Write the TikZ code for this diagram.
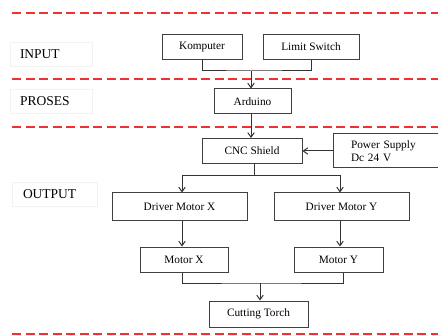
\documentclass[tikz,border=0pt]{standalone}
\usepackage{fontspec}
\setmainfont{Liberation Serif}
\usetikzlibrary{arrows.meta}

\tikzset{
  blok/.style={draw=black!75, line width=1pt, inner sep=0pt, minimum height=25, font=\fontsize{11.3}{12.5}\selectfont},
  fase/.style={draw=black!5, line width=0.6pt, inner ysep=0pt, inner xsep=10pt, text width=62, align=left, minimum height=24, font=\fontsize{13.5}{14}\selectfont},
  batas/.style={draw={rgb,255:red,238;green,50;blue,50}, line width=2.6pt, dash pattern=on 9pt off 4.5pt},
  panah/.style={draw=black!80, line width=1pt, -{Straight Barb[length=4.5pt,width=6.5pt]}},
  garis/.style={draw=black!80, line width=1pt}
}

\begin{document}
\begin{tikzpicture}[x=1pt,y=-1pt]
\useasboundingbox (0,0) rectangle (438,336);
\clip (0,0) rectangle (438,336);
% draw phase borders
\draw[batas] (12,13) -- (438,13);
\draw[batas] (12,79) -- (438,79);
\draw[batas] (12,127) -- (438,127);
\draw[batas] (12,334) -- (438,334);
% draw phase labels
\node[fase] (lblin) at (51,54) {INPUT};
\node[fase] (lblpr) at (51,101) {PROSES};
\node[fase, inner xsep=11pt, text width=63] (lblout) at (54.5,194) {OUTPUT};
% draw blocks
\node[blok, minimum width=80] (komp) at (202,47) {Komputer};
\node[blok, minimum width=96] (limit) at (311,47) {Limit Switch};
\node[blok, minimum width=77] (ard) at (252.5,101.5) {Arduino};
\node[blok, minimum width=100] (cnc) at (252,151) {CNC Shield};
\node[blok, minimum width=120, minimum height=34, align=left, text width=100] (psu) at (393,151) {\hspace*{8pt}Power Supply\\\hspace*{8pt}Dc 24 V};
\node[blok, minimum width=135, minimum height=28] (drvx) at (179.5,207) {Driver Motor X};
\node[blok, minimum width=135, minimum height=28] (drvy) at (341.5,207) {Driver Motor Y};
\node[blok, minimum width=88] (motx) at (184,259.5) {Motor X};
\node[blok, minimum width=89] (moty) at (338.5,259.5) {Motor Y};
\node[blok, minimum width=99, minimum height=26] (torch) at (258.5,314) {Cutting Torch};
% junction points
\coordinate (j1) at (251,71);
\coordinate (j2) at (254,176);
\coordinate (j3) at (260,283);
\coordinate (kx) at (182,0);
\coordinate (ky) at (340,0);
\coordinate (my) at (343,0);
% draw connectors
\draw[garis] (komp.south) |- (j1) -| (limit.south);
\draw[panah] (j1) -- (j1 |- ard.north);
\draw[panah] (ard.south -| j1) -- (j1 |- cnc.north);
\draw[panah] (psu.west |- cnc.east) -- (cnc.east);
\draw[garis] (cnc.south -| j2) -- (j2);
\draw[panah] (j2) -| (kx |- drvx.north);
\draw[panah] (j2) -| (ky |- drvy.north);
\draw[panah] (kx |- drvx.south) -- (kx |- motx.north);
\draw[panah] (ky |- drvy.south) -- (ky |- moty.north);
\draw[garis] (kx |- motx.south) |- (j3) -| (my |- moty.south);
\draw[panah] (j3) -- (j3 |- torch.north);
\end{tikzpicture}
\end{document}
